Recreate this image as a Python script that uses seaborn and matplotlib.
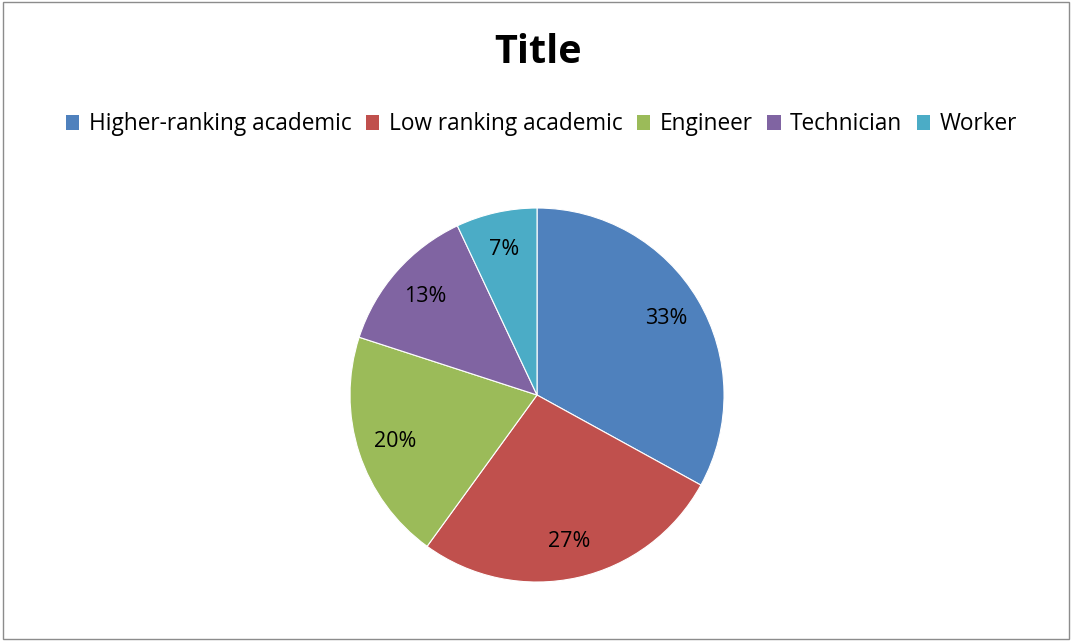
import matplotlib
matplotlib.use("Agg")
import matplotlib.pyplot as plt
import matplotlib.patches as mpatches
import seaborn as sns

categories = ["Higher-ranking academic", "Low ranking academic", "Engineer", "Technician", "Worker"]
values = [33, 27, 20, 13, 7]
colors = ["#4F81BD", "#C0504D", "#9BBB59", "#8064A2", "#4BACC6"]
title = "Title"

sns.set_theme(style="white")
plt.rcParams['font.family'] = ['Open Sans', 'DejaVu Sans']
plt.rcParams['text.color'] = 'black'

fig = plt.figure(figsize=(10.72, 6.41), dpi=100)
fig.patch.set_facecolor("white")
fig.add_artist(mpatches.Rectangle((0.003, 0.003), 0.994, 0.994, transform=fig.transFigure,
                                  fill=False, edgecolor="#8c8c8c", linewidth=1.0))

ax = fig.add_axes([0.3265, 0.092, 0.3489, 0.5835])
wedges, texts, autotexts = ax.pie(values, colors=colors, startangle=90, counterclock=False,
                                  autopct=lambda p: f"{p:.0f}%", pctdistance=0.8,
                                  wedgeprops=dict(edgecolor="white", linewidth=0.8),
                                  textprops=dict(fontsize=15.5, color="black"))
ax.set_xlim(-1, 1)
ax.set_ylim(-1, 1)
ax.set_aspect("equal")
ax.axis("off")

fig.text(0.5015, 0.918, title, ha="center", va="center", fontsize=28.5, fontweight="bold",
         color="black")

handles = [mpatches.Patch(facecolor=c, edgecolor="none") for c in colors]
fig.legend(handles, categories, loc="center", bbox_to_anchor=(0.505, 0.806), ncol=5,
           frameon=False, fontsize=16.3, handlelength=0.6, handleheight=0.6,
           handletextpad=0.4, columnspacing=0.65, labelcolor="black")

fig.savefig("out.png", dpi=100)
